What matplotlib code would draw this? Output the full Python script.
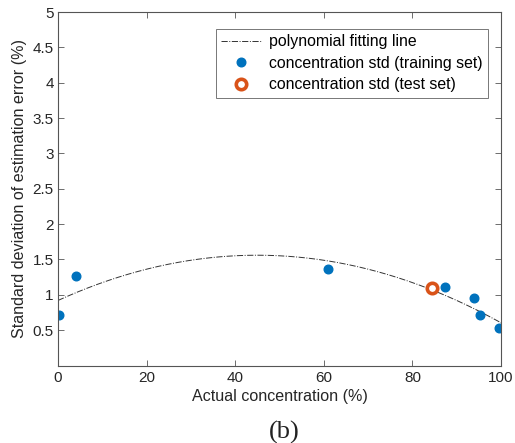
import numpy as np
import matplotlib
matplotlib.use("Agg")
import matplotlib.pyplot as plt

plt.rcParams['font.family'] = ['Liberation Sans', 'DejaVu Sans']

# Training-set samples: actual concentration (%) vs std of estimation error (%)
train_conc = [0.2, 4.0, 61.0, 87.4, 93.8, 95.3, 99.5]
train_std = [0.72, 1.27, 1.37, 1.11, 0.96, 0.71, 0.53]

# Test-set sample
test_conc = [84.4]
test_std = [1.10]

# Quadratic fitting polynomial (highest power first)
poly_coef = [-3.16e-4, 0.02844, 0.92]

x_ticks = [0, 20, 40, 60, 80, 100]
y_ticks = [0.5, 1, 1.5, 2, 2.5, 3, 3.5, 4, 4.5, 5]

fig = plt.figure(figsize=(5.15, 4.43), dpi=100)
ax = fig.add_axes([58 / 515, 1 - 365.5 / 443, (501 - 58) / 515, (365.5 - 12) / 443])

xf = np.linspace(0, 100, 400)
ax.plot(xf, np.polyval(poly_coef, xf), linestyle='-.', color='#333333', lw=0.7,
        label='polynomial fitting line')
ax.plot(train_conc, train_std, 'o', color='#0072BD', markersize=6.2, mec='#0072BD',
        label='concentration std (training set)')
ax.plot(test_conc, test_std, 'o', mfc='white', mec='#D95319', mew=2.6, markersize=7.5,
        label='concentration std (test set)')

ax.set_xlim(0, 100)
ax.set_ylim(0, 5)
ax.set_xticks(x_ticks)
ax.set_yticks(y_ticks)
ax.set_yticklabels([f'{v:g}' for v in y_ticks])

grey = '#262626'
for s in ax.spines.values():
    s.set_color('#555555')
    s.set_linewidth(0.8)
ax.tick_params(direction='in', length=4, width=0.6, colors='#555555',
               labelcolor=grey, labelsize=11, top=True, right=True, pad=4)
ax.tick_params(axis='y', pad=3)

ax.set_xlabel('Actual concentration (%)', fontsize=11.6, color=grey, labelpad=3)
ax.set_ylabel('Standard deviation of estimation error (%)', fontsize=11.6, color=grey,
              labelpad=4)

leg = ax.legend(loc='upper right', bbox_to_anchor=(0.971, 0.953), fontsize=11.4,
                frameon=True, fancybox=False, edgecolor='#555555', handlelength=2.5,
                handletextpad=0.5, borderpad=0.35, labelspacing=0.42, borderaxespad=0)
leg.get_frame().set_linewidth(0.7)

fig.text(284 / 515, 1 - 432 / 443, '(b)', ha='center', va='center', fontsize=19,
         family=['Liberation Serif', 'DejaVu Serif'], color='#222222')

fig.savefig('out.png', dpi=100)
